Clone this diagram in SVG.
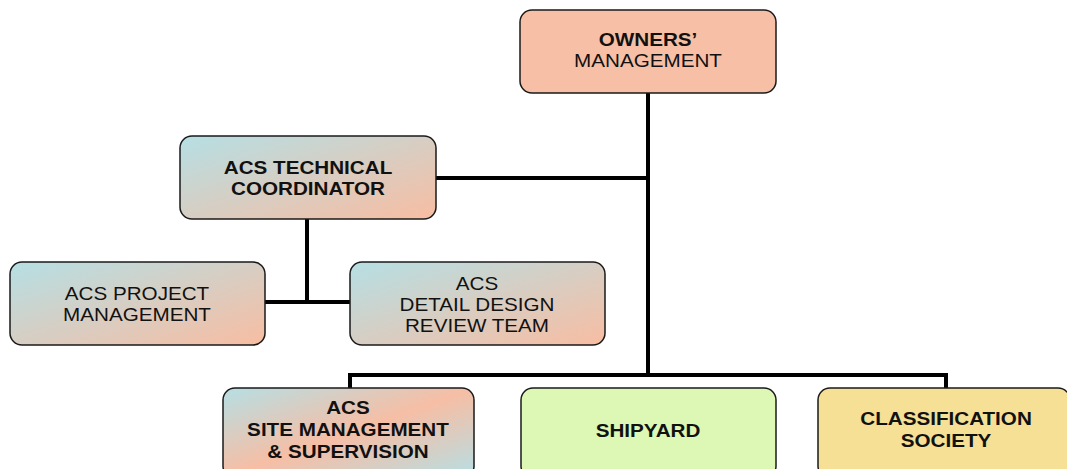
<svg xmlns="http://www.w3.org/2000/svg" width="1067" height="469" viewBox="0 0 1067 469">
<defs>
<linearGradient id="gBS" x1="0" y1="0" x2="1" y2="1">
<stop offset="0" stop-color="#b6dfe4"/>
<stop offset="1" stop-color="#f8bda2"/>
</linearGradient>
<linearGradient id="gSite" x1="0" y1="0" x2="1" y2="1">
<stop offset="0" stop-color="#b6dfe4"/>
<stop offset="0.5" stop-color="#f6bea5"/>
<stop offset="1" stop-color="#b6dfe4"/>
</linearGradient>
<style>
.box{stroke:#1a1a1a;stroke-width:1.5}
.t{font-family:"Liberation Sans",Arial,sans-serif;font-size:17.5px;fill:#111;text-anchor:middle}
.b{font-weight:bold}
.c{fill:none;stroke:#000;stroke-width:4}
</style>
</defs>
<rect width="1067" height="469" fill="#fff"/>
<g id="connectors">
<path class="c" d="M648 93 V377"/>
<path class="c" d="M436 178 H648"/>
<path class="c" d="M307 219 V302"/>
<path class="c" d="M265 302 H350"/>
<path class="c" d="M350 389 V375 H946 V389"/>
</g>
<g id="owners">
<rect class="box" x="520" y="10" width="256" height="83" rx="12" fill="#f7c0a6"/>
<g transform="translate(648,0) scale(1.18,1)"><text class="t b" x="0" y="46">OWNERS’</text><text class="t" x="0" y="67">MANAGEMENT</text></g>
</g>
<g id="tech">
<rect class="box" x="180" y="136" width="256" height="83" rx="12" fill="url(#gBS)"/>
<g transform="translate(308,0) scale(1.18,1)"><text class="t b" x="0" y="174">ACS TECHNICAL</text><text class="t b" x="0" y="195">COORDINATOR</text></g>
</g>
<g id="projmgmt">
<rect class="box" x="10" y="262" width="255" height="83" rx="12" fill="url(#gBS)"/>
<g transform="translate(137,0) scale(1.18,1)"><text class="t" x="0" y="300">ACS PROJECT</text><text class="t" x="0" y="321">MANAGEMENT</text></g>
</g>
<g id="detail">
<rect class="box" x="350" y="262" width="255" height="83" rx="12" fill="url(#gBS)"/>
<g transform="translate(477,0) scale(1.18,1)"><text class="t" x="0" y="290">ACS</text><text class="t" x="0" y="311">DETAIL DESIGN</text><text class="t" x="0" y="332">REVIEW TEAM</text></g>
</g>
<g id="site">
<rect class="box" x="223" y="388" width="251" height="90" rx="12" fill="url(#gSite)"/>
<g transform="translate(348,0) scale(1.18,1)"><text class="t b" x="0" y="414">ACS</text><text class="t b" x="0" y="436">SITE MANAGEMENT</text><text class="t b" x="0" y="458">&amp; SUPERVISION</text></g>
</g>
<g id="shipyard">
<rect class="box" x="521" y="388" width="255" height="90" rx="12" fill="#dcf8b4"/>
<g transform="translate(648,0) scale(1.18,1)"><text class="t b" x="0" y="437">SHIPYARD</text></g>
</g>
<g id="class">
<rect class="box" x="818" y="388" width="252" height="90" rx="12" fill="#f5e096"/>
<g transform="translate(946,0) scale(1.18,1)"><text class="t b" x="0" y="425">CLASSIFICATION</text><text class="t b" x="0" y="447">SOCIETY</text></g>
</g>
</svg>
